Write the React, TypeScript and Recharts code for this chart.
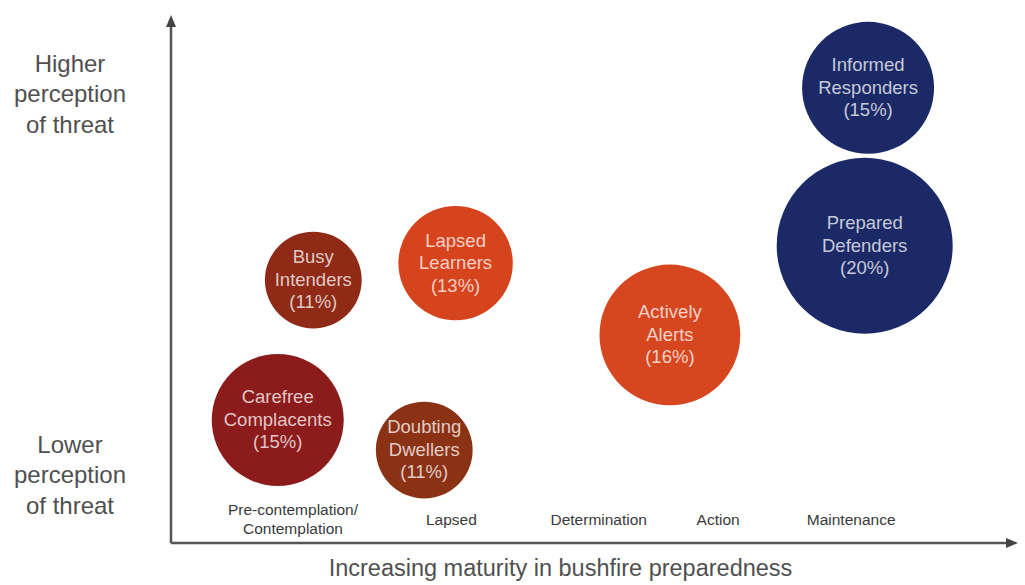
import React from "react";
import {
  ScatterChart,
  Scatter,
  XAxis,
  YAxis,
  ZAxis,
  Cell,
  ReferenceLine,
} from "recharts";

// segments of the bushfire preparedness model
const segments = [
  "Carefree Complacents",
  "Busy Intenders",
  "Lapsed Learners",
  "Doubting Dwellers",
  "Actively Alerts",
  "Informed Responders",
  "Prepared Defenders",
];
const share = [15, 11, 13, 11, 16, 15, 20]; // % of population
const maturity = [12.6, 16.8, 33.6, 29.9, 58.9, 82.3, 81.9]; // x, 0-100
const threat = [23.3, 49.8, 53.0, 17.6, 39.4, 86.2, 56.3]; // y, 0-100

const stageLabels = [
  "Pre-contemplation/|Contemplation",
  "Lapsed",
  "Determination",
  "Action",
  "Maintenance",
];
const stagePositions = [14.4, 33.1, 50.5, 64.6, 80.3];

const threatLabels = ["Lower|perception|of threat", "Higher|perception|of threat"];
const threatPositions = [12.5, 84.7];

const xTitle = "Increasing maturity in bushfire preparedness";

const colors = [
  "#8c1b1c",
  "#8e2a16",
  "#d6441d",
  "#8b3215",
  "#d6461f",
  "#1b2a66",
  "#1b2a66",
];

const FONT = "'Liberation Sans', Arial, sans-serif";
const MAX_R = 88;

// radius grows linearly with share, recharts sizes by area
const data = segments.map((name, i) => ({
  name,
  share: share[i],
  x: maturity[i],
  y: threat[i],
  area: share[i] * share[i],
}));

function Bubble(props: any) {
  const { cx, cy, fill, payload } = props;
  const r = props.width ? props.width / 2 : Math.sqrt(props.size / Math.PI);
  const words = payload.name.split(" ");
  const lines = [words[0], words.slice(1).join(" "), `(${payload.share}%)`];
  return (
    <g>
      <circle cx={cx} cy={cy} r={r} fill={fill} />
      {lines.map((l, i) => (
        <text
          key={i}
          x={cx}
          y={cy + (i - 1) * 22.5 + 1}
          textAnchor="middle"
          dominantBaseline="middle"
          fontFamily={FONT}
          fontSize={18.5}
          fill="#ffffff"
          fillOpacity={0.75}
        >
          {l}
        </text>
      ))}
    </g>
  );
}

function StageTick(props: any) {
  const { x, y, payload } = props;
  const idx = stagePositions.indexOf(payload.value);
  const lines = (stageLabels[idx] || "").split("|");
  const start = lines.length > 1 ? -32 : -22;
  return (
    <g>
      {lines.map((l, i) => (
        <text
          key={i}
          x={x}
          y={y + start + i * 19}
          textAnchor="middle"
          dominantBaseline="middle"
          fontFamily={FONT}
          fontSize={15.5}
          fill="#3a3a3a"
        >
          {l}
        </text>
      ))}
    </g>
  );
}

function ThreatTick(props: any) {
  const { x, y, payload } = props;
  const idx = threatPositions.indexOf(payload.value);
  const lines = (threatLabels[idx] || "").split("|");
  return (
    <g>
      {lines.map((l, i) => (
        <text
          key={i}
          x={x - 101}
          y={y + (i - 1) * 30.5}
          textAnchor="middle"
          dominantBaseline="middle"
          fontFamily={FONT}
          fontSize={24}
          fill="#505050"
        >
          {l}
        </text>
      ))}
    </g>
  );
}

function Arrow(props: any) {
  const { x1, y1, x2, y2 } = props;
  const len = Math.hypot(x2 - x1, y2 - y1) || 1;
  const ux = (x2 - x1) / len;
  const uy = (y2 - y1) / len;
  const bx = x2 - ux * 12;
  const by = y2 - uy * 12;
  const pts = `${x2},${y2} ${bx - uy * 5},${by + ux * 5} ${bx + uy * 5},${by - ux * 5}`;
  return (
    <g>
      <line x1={x1} y1={y1} x2={bx} y2={by} stroke="#555" strokeWidth={2.5} />
      <polygon points={pts} fill="#444" />
    </g>
  );
}

function TitleLabel(props: any) {
  const vb = props.viewBox || { x: 171, y: 543, width: 847 };
  return (
    <text
      x={vb.x + vb.width / 2 - 34}
      y={vb.y + 27}
      textAnchor="middle"
      dominantBaseline="middle"
      fontFamily={FONT}
      fontSize={23.5}
      fill="#505050"
    >
      {xTitle}
    </text>
  );
}

export default function App() {
  return (
    <div style={{ position: "absolute", left: 0, top: 0, background: "#fff" }}>
      <ScatterChart
        width={1025}
        height={585}
        margin={{ top: 15, right: 7, bottom: 41, left: 170 }}
      >
        <XAxis
          type="number"
          dataKey="x"
          domain={[0, 100]}
          allowDataOverflow
          height={1}
          ticks={stagePositions}
          interval={0}
          axisLine={false}
          tickLine={false}
          tickSize={0}
          tickMargin={0}
          tick={<StageTick />}
          label={<TitleLabel />}
        />
        <YAxis
          type="number"
          dataKey="y"
          domain={[0, 100]}
          allowDataOverflow
          width={1}
          ticks={threatPositions}
          interval={0}
          axisLine={false}
          tickLine={false}
          tickSize={0}
          tickMargin={0}
          tick={<ThreatTick />}
        />
        <ZAxis
          type="number"
          dataKey="area"
          domain={[0, 400]}
          range={[0, Math.PI * MAX_R * MAX_R]}
        />
        <ReferenceLine
          segment={[{ x: 0, y: 0 }, { x: 0, y: 100 }]}
          ifOverflow="visible"
          shape={(p: any) => <Arrow {...p} />}
        />
        <ReferenceLine
          segment={[{ x: 0, y: 0 }, { x: 100, y: 0 }]}
          ifOverflow="visible"
          shape={(p: any) => <Arrow {...p} />}
        />
        <Scatter data={data} isAnimationActive={false} shape={(p: any) => <Bubble {...p} />}>
          {data.map((d, i) => (
            <Cell key={d.name} fill={colors[i]} />
          ))}
        </Scatter>
      </ScatterChart>
    </div>
  );
}
